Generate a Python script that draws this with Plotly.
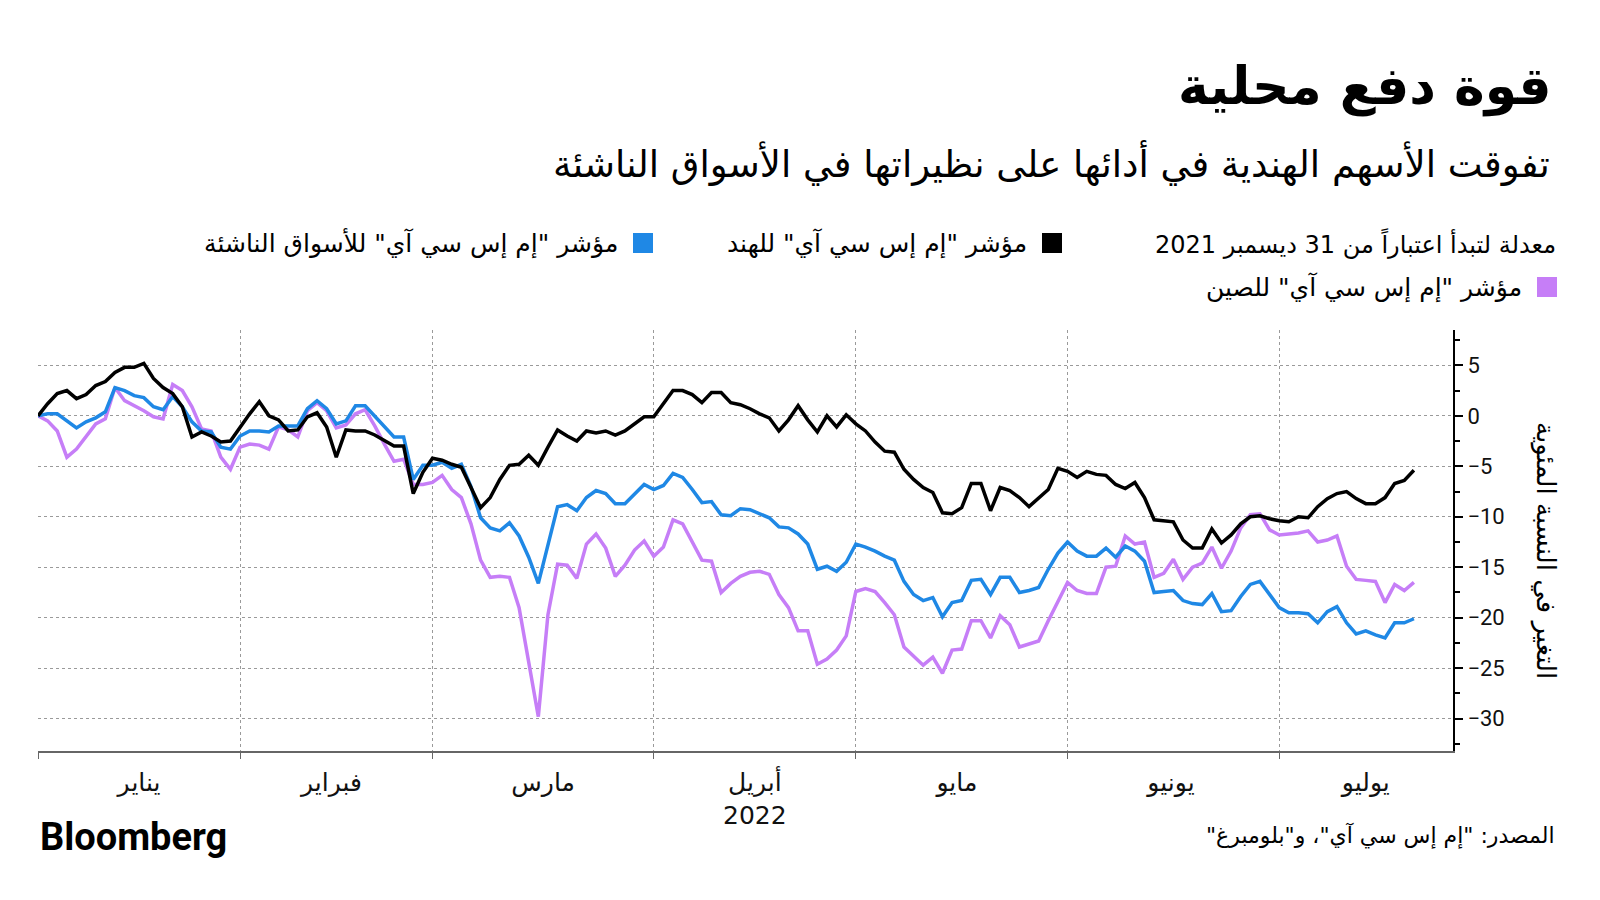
import pandas as pd
import plotly.graph_objects as go

# ---------------- data ----------------
dates = pd.bdate_range("2022-01-03", periods=144)

india = [0, 1.2, 2.2, 2.5, 1.7, 2.1, 3.0, 3.4, 4.3, 4.8, 4.8, 5.2, 3.7, 2.8, 2.2, 0.9, -2.1, -1.6, -2.0, -2.6,
         -2.5, -1.1, 0.2, 1.4, 0.0, -0.4, -1.5, -1.4, -0.1, 0.3, -1.1, -4.1, -1.4, -1.5, -1.5, -1.9, -2.5, -3.0, -3.0, -7.7,
         -5.6, -4.2, -4.4, -4.8, -5.1, -7.1, -9.1, -8.1, -6.3, -4.9, -4.8, -3.9, -4.9, -3.1, -1.4, -2.0, -2.5, -1.5, -1.7, -1.5,
         -1.9, -1.5, -0.8, -0.1, -0.1, 1.2, 2.5, 2.5, 2.1, 1.3, 2.3, 2.3, 1.3, 1.1, 0.7, 0.2, -0.2, -1.5, -0.4, 1.0,
         -0.4, -1.6, 0.0, -1.1, 0.1, -0.8, -1.5, -2.6, -3.5, -3.6, -5.3, -6.3, -7.1, -7.6, -9.6, -9.7, -9.1, -6.7, -6.7, -9.4,
         -7.1, -7.4, -8.1, -9.0, -8.1, -7.3, -5.2, -5.5, -6.1, -5.5, -5.8, -5.9, -6.8, -7.2, -6.6, -8.1, -10.3, -10.4, -10.5, -12.3,
         -13.1, -13.1, -11.2, -12.6, -11.8, -10.7, -10.0, -9.9, -10.2, -10.4, -10.5, -10.0, -10.1, -9.0, -8.2, -7.7, -7.5, -8.2, -8.7, -8.7,
         -8.1, -6.7, -6.4, -5.4]

em = [0, 0.2, 0.2, -0.5, -1.2, -0.6, -0.2, 0.4, 2.8, 2.5, 2.0, 1.8, 0.9, 0.6, 1.9, 0.9, -0.6, -1.5, -1.6, -3.1,
      -3.3, -2.0, -1.5, -1.5, -1.6, -1.0, -1.0, -1.0, 0.7, 1.5, 0.7, -0.8, -0.5, 1.0, 1.0, 0.0, -1.0, -2.1, -2.1, -6.3,
      -4.9, -4.9, -4.6, -5.2, -4.8, -7.0, -10.1, -11.1, -11.4, -10.6, -11.9, -14.0, -16.6, -12.9, -9.0, -8.8, -9.4, -8.1, -7.4, -7.7,
      -8.7, -8.7, -7.7, -6.8, -7.3, -6.9, -5.7, -6.1, -7.3, -8.6, -8.5, -9.8, -9.9, -9.2, -9.3, -9.7, -10.1, -11.0, -11.1, -11.7,
      -12.7, -15.2, -14.9, -15.4, -14.5, -12.7, -13.0, -13.4, -13.9, -14.3, -16.4, -17.7, -18.3, -18.0, -19.9, -18.5, -18.3, -16.3, -16.2, -17.7,
      -16.0, -16.0, -17.5, -17.3, -17.0, -15.2, -13.6, -12.5, -13.4, -13.9, -13.9, -13.1, -14.0, -12.9, -13.4, -14.4, -17.5, -17.4, -17.3, -18.3,
      -18.6, -18.7, -17.6, -19.4, -19.3, -17.9, -16.7, -16.4, -17.7, -19.0, -19.5, -19.5, -19.6, -20.5, -19.4, -18.9, -20.5, -21.6, -21.3, -21.7,
      -22.0, -20.5, -20.5, -20.1]

china = [0, -0.5, -1.5, -4.1, -3.3, -2.0, -0.8, -0.3, 2.8, 1.5, 1.0, 0.5, -0.1, -0.3, 3.1, 2.5, 0.9, -1.3, -1.5, -4.1,
         -5.3, -3.1, -2.8, -2.9, -3.3, -1.1, -1.4, -2.1, 0.5, 1.3, 0.5, -1.2, -0.9, 0.2, 0.6, -1.0, -2.8, -4.5, -4.3, -6.8,
         -6.8, -6.6, -5.9, -7.3, -8.1, -10.7, -14.3, -16.0, -15.9, -16.0, -19.0, -24.3, -29.8, -19.7, -14.7, -14.8, -16.1, -12.7, -11.7, -13.1,
         -15.9, -14.8, -13.3, -12.4, -13.9, -13.0, -10.3, -10.7, -12.5, -14.3, -14.4, -17.5, -16.6, -15.9, -15.5, -15.4, -15.7, -17.7, -19.0, -21.3,
         -21.3, -24.6, -24.1, -23.2, -21.8, -17.4, -17.1, -17.4, -18.5, -19.7, -22.9, -23.8, -24.7, -23.9, -25.5, -23.2, -23.1, -20.3, -20.3, -22.0,
         -19.8, -20.7, -22.9, -22.6, -22.3, -20.3, -18.3, -16.5, -17.3, -17.6, -17.6, -15.0, -14.9, -11.9, -12.7, -12.5, -16.0, -15.6, -14.2, -16.2,
         -15.0, -14.6, -13.0, -15.1, -13.4, -11.1, -9.8, -9.7, -11.3, -11.8, -11.7, -11.6, -11.4, -12.5, -12.3, -11.9, -14.9, -16.2, -16.3, -16.4,
         -18.5, -16.7, -17.3, -16.5]

month_starts = ["2022-01-03", "2022-02-01", "2022-03-01", "2022-04-01", "2022-05-02", "2022-06-01", "2022-07-01"]
month_label_pos = ["2022-01-17 12:00", "2022-02-14 12:00", "2022-03-16 12:00", "2022-04-15 12:00",
                   "2022-05-16 12:00", "2022-06-15 18:00", "2022-07-14"]
month_labels = ["يناير", "فبراير", "مارس", "أبريل<br>2022", "مايو", "يونيو", "يوليو"]
y_ticks = [-30, -25, -20, -15, -10, -5, 0, 5]
y_minor = [-32.5, -27.5, -22.5, -17.5, -12.5, -7.5, -2.5, 2.5, 7.5]

series_names = ["مؤشر \"إم إس سي آي\" للهند", "مؤشر \"إم إس سي آي\" للأسواق الناشئة", "مؤشر \"إم إس سي آي\" للصين"]
colors = ["#000000", "#1f88e5", "#c67ef7"]

title = "قوة دفع محلية"
subtitle = "تفوقت الأسهم الهندية في أدائها على نظيراتها في الأسواق الناشئة"
note = "معدلة لتبدأ اعتباراً من 31 ديسمبر 2021"
ytitle = "التغير في النسبة المئوية"
source = "المصدر: \"إم إس سي آي\"، و\"بلومبرغ\""

AR = "DejaVu Sans, sans-serif"
RLM = "\u200f"


def rtl(s):
    return RLM + s + RLM


# ---------------- figure ----------------
L, R, T, B = 38, 147, 330, 149
W, H = 1600, 900
PW, PH = W - L - R, H - T - B


def px(x):
    return (x - L) / PW


def py(y):
    return (H - B - y) / PH


fig = go.Figure()
for vals, name, col in [(china, series_names[2], colors[2]), (em, series_names[1], colors[1]), (india, series_names[0], colors[0])]:
    fig.add_trace(go.Scatter(x=dates, y=vals, mode="lines", name=name,
                             line=dict(color=col, width=3.5), showlegend=False))

fig.update_layout(
    width=W, height=H,
    margin=dict(l=L, r=R, t=T, b=B),
    plot_bgcolor="white", paper_bgcolor="white",
    showlegend=False,
    xaxis=dict(
        type="date",
        range=["2022-01-03", "2022-07-27 01:30"],
        rangebreaks=[dict(bounds=["sat", "mon"])],
        tickmode="array", tickvals=month_label_pos, ticktext=month_labels,
        ticks="", showgrid=False, zeroline=False,
        tickfont=dict(family=AR, size=25, color="#111"),
        ticklabelstandoff=8,
        showline=True, linecolor="#666", linewidth=2,
        minor=dict(tickmode="array", tickvals=month_starts, showgrid=True,
                   gridcolor="#9a9a9a", griddash="dot", gridwidth=1,
                   ticks="outside", ticklen=6, tickcolor="#666", tickwidth=1),
    ),
    yaxis=dict(
        side="right", range=[-33.2, 8.5],
        tickmode="array", tickvals=y_ticks,
        ticks="outside", ticklen=8, tickwidth=2, tickcolor="black",
        showline=True, linecolor="black", linewidth=2,
        showgrid=True, gridcolor="#9a9a9a", griddash="dot", gridwidth=1,
        zeroline=False,
        tickfont=dict(family="Roboto", size=22, color="#111"),
        minor=dict(tickmode="array", tickvals=y_minor, ticks="outside", ticklen=5,
                   tickwidth=1.5, tickcolor="black", showgrid=False),
    ),
)

ann = []
ann.append(dict(text="<b>" + rtl(title) + "</b>", x=px(1553), y=py(86), xanchor="right", yanchor="middle",
                font=dict(family=AR, size=52, color="black")))
ann.append(dict(text=rtl(subtitle), x=px(1552), y=py(163), xanchor="right", yanchor="middle",
                font=dict(family=AR, size=37, color="black")))
ann.append(dict(text=rtl(note), x=px(1558), y=py(243), xanchor="right", yanchor="middle",
                font=dict(family=AR, size=24, color="black")))
ann.append(dict(text=rtl(series_names[0]), x=px(1029), y=py(243), xanchor="right", yanchor="middle",
                font=dict(family=AR, size=25, color="black")))
ann.append(dict(text=rtl(series_names[1]), x=px(620), y=py(243), xanchor="right", yanchor="middle",
                font=dict(family=AR, size=25, color="black")))
ann.append(dict(text=rtl(series_names[2]), x=px(1524), y=py(287), xanchor="right", yanchor="middle",
                font=dict(family=AR, size=25, color="black")))
ann.append(dict(text=rtl(ytitle), x=px(1546), y=py(551), xanchor="center", yanchor="middle", textangle=90,
                font=dict(family=AR, size=26, color="black")))
ann.append(dict(text="<b>Bloomberg</b>", x=px(38), y=py(837), xanchor="left", yanchor="middle",
                font=dict(family="Roboto", size=38, color="black")))
ann.append(dict(text=rtl(source), x=px(1557), y=py(835), xanchor="right", yanchor="middle",
                font=dict(family=AR, size=22, color="black")))
for a in ann:
    a.update(xref="paper", yref="paper", showarrow=False)
fig.update_layout(annotations=ann)

shapes = []
for cx, cy, col in [(1052, 243, colors[0]), (643, 243, colors[1]), (1547, 287, colors[2])]:
    shapes.append(dict(type="rect", xref="paper", yref="paper",
                       x0=px(cx - 10), x1=px(cx + 10), y0=py(cy + 10), y1=py(cy - 10),
                       fillcolor=col, line=dict(width=0)))
fig.update_layout(shapes=shapes)

fig.write_html("out.html")
